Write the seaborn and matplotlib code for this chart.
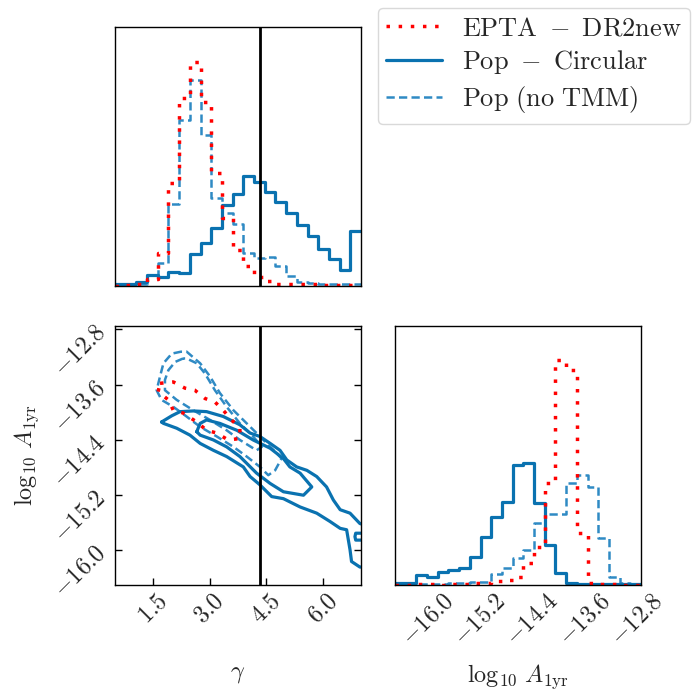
import numpy as np
import pandas as pd
import matplotlib
matplotlib.use("Agg")
import matplotlib.pyplot as plt
import seaborn as sns
from matplotlib.lines import Line2D

sns.set_theme(style="white")
plt.rcParams.update({
    "font.family": "serif",
    "font.serif": ["cmr10", "DejaVu Serif"],
    "mathtext.fontset": "cm",
    "axes.unicode_minus": False,
    "axes.formatter.use_mathtext": True,
})

# ---------------- data ----------------
gamma_range = (0.5, 7.0)
loga_range = (-16.5, -12.75)
n_bins = 23
gamma_ticks = [1.5, 3.0, 4.5, 6.0]
loga_ticks = [-16.0, -15.2, -14.4, -13.6, -12.8]
gamma_truth = 13.0 / 3.0
hist_top = 259

series_labels = [r"$\mathrm{EPTA}\ -\ \mathrm{DR2new}$",
                 r"$\mathrm{Pop}\ -\ \mathrm{Circular}$",
                 r"$\mathrm{Pop\ (no\ TMM)}$"]

gamma_epta = [0, 1, 2, 7, 33, 103, 188, 224, 184, 113, 68, 36, 20, 9, 5, 2, 2, 2, 2, 1.5, 1.5, 1.5, 1.5]
gamma_circ = [1.7, 1.7, 3.7, 11, 9.3, 14.3, 12.7, 32, 43, 58, 81, 92, 110, 104, 94, 84, 73, 61, 50, 37, 27, 16, 55]
gamma_notmm = [1, 1, 2, 11, 23, 82, 166, 206, 151, 88, 73, 62, 33, 28, 29, 20, 10, 4, 3, 2, 2, 2, 2]

loga_epta = [0.5, 0.5, 1, 1, 0.5, 1, 1, 2, 2, 4, 5, 8, 22, 38, 102, 225, 215, 52, 2, 1, 1, 0.5, 0.5]
loga_circ = [1.7, 1.7, 10, 7.7, 13.3, 15, 16.7, 27.7, 48.3, 67.7, 83.3, 120, 121.7, 82.3, 40, 11.7, 1.7, 1, 1, 1, 1, 1, 1]
loga_notmm = [0.5, 0.5, 1, 1.5, 1.5, 2, 2, 3, 3.3, 11, 17, 26.7, 35, 61.7, 71, 71, 101.7, 110, 98.3, 46.7, 8, 1.7, 1]

# 2D credible contours (gamma, log10 A)
epta_c_g = [1.69, 2.04, 2.35, 2.61, 2.88, 3.14, 3.36, 3.58, 3.80, 3.80, 3.49, 3.19, 2.92, 2.66, 2.30, 2.04, 1.91, 1.64, 1.69]
epta_c_a = [-13.58, -13.56, -13.65, -13.68, -13.80, -13.85, -13.97, -14.11, -14.23, -14.38, -14.40, -14.30, -14.26, -14.14, -14.01, -13.97, -13.82, -13.70, -13.58]

notmm_outer_g = [2.26, 2.00, 1.78, 1.69, 1.60, 1.73, 2.04, 2.39, 2.75, 3.19, 3.63, 3.98, 4.33, 4.55, 4.73, 4.90, 4.77, 4.51, 4.24, 3.98, 3.63, 3.27, 3.01, 2.75, 2.39, 2.26]
notmm_outer_a = [-13.12, -13.15, -13.29, -13.48, -13.68, -13.82, -13.92, -14.06, -14.21, -14.35, -14.50, -14.64, -14.79, -14.91, -14.84, -14.67, -14.59, -14.45, -14.30, -14.16, -13.97, -13.72, -13.48, -13.29, -13.12, -13.12]
notmm_inner_g = [2.30, 2.09, 1.91, 1.82, 1.82, 2.13, 2.57, 3.01, 3.45, 3.80, 4.24, 4.38, 4.15, 3.80, 3.45, 3.14, 2.88, 2.66, 2.39, 2.30]
notmm_inner_a = [-13.22, -13.27, -13.39, -13.53, -13.68, -13.82, -13.97, -14.11, -14.26, -14.40, -14.55, -14.50, -14.35, -14.16, -13.92, -13.68, -13.44, -13.29, -13.22, -13.22]

circ_outer_g = [1.73, 2.00, 2.22, 2.57, 2.92, 3.36, 3.80, 4.07, 4.33, 4.60, 4.86, 5.04, 5.30, 5.57, 5.83, 6.09, 6.27, 6.45, 6.71, 6.97, 7.10,
                7.10, 6.97, 6.75, 6.71, 6.62, 6.45, 6.18, 5.83, 5.39, 4.95, 4.64, 4.33, 4.07, 3.89, 3.45, 3.10, 2.75, 2.48, 2.13, 1.78, 1.73]
circ_outer_a = [-14.14, -14.05, -13.99, -13.98, -13.99, -14.06, -14.18, -14.30, -14.35, -14.45, -14.55, -14.69, -14.79, -14.84, -14.93, -15.08, -15.27, -15.41, -15.46, -15.61, -15.63,
                -16.24, -16.24, -16.16, -15.99, -15.70, -15.68, -15.58, -15.46, -15.37, -15.25, -15.22, -15.05, -14.93, -14.79, -14.64, -14.55, -14.45, -14.33, -14.23, -14.16, -14.14]
circ_inner_g = [2.66, 2.75, 2.92, 3.27, 3.72, 4.15, 4.60, 4.95, 5.12, 5.39, 5.70, 5.48, 4.95, 4.60, 4.24, 3.80, 3.45, 3.10, 2.75, 2.66]
circ_inner_a = [-14.28, -14.16, -14.11, -14.16, -14.26, -14.40, -14.52, -14.67, -14.79, -14.88, -15.08, -15.20, -15.15, -15.03, -14.88, -14.64, -14.50, -14.40, -14.33, -14.28]
circ_blob_g = [7.10, 6.86, 6.84, 6.86, 7.10]
circ_blob_a = [-15.75, -15.75, -15.80, -15.85, -15.85]

# ---------------- styles ----------------
c_red = "#ff0000"
c_circ = "#0a72b0"
c_notmm = "#2f8ac4"
st_red = dict(color=c_red, linestyle=(0, (1.0, 2.5)), linewidth=2.5)
st_circ = dict(color=c_circ, linestyle="-", linewidth=2.3)
st_notmm = dict(color=c_notmm, linestyle=(0, (3.3, 1.7)), linewidth=1.8)
FS = 17.5
FS_LEG = 19

W, H = 693, 691
fig = plt.figure(figsize=(W / 100, H / 100), dpi=100)

def frac(x0, y0, x1, y1):
    return [x0 / W, 1 - y1 / H, (x1 - x0) / W, (y1 - y0) / H]

ax_g = fig.add_axes(frac(115, 27, 361, 286))
ax_2d = fig.add_axes(frac(115, 326, 361, 585))
ax_a = fig.add_axes(frac(395, 326, 641, 585))

g_w = (gamma_range[1] - gamma_range[0]) / n_bins
a_w = (loga_range[1] - loga_range[0]) / n_bins
g_cent = gamma_range[0] + g_w * (np.arange(n_bins) + 0.5)
a_cent = loga_range[0] + a_w * (np.arange(n_bins) + 0.5)

for vals, st in [(gamma_notmm, st_notmm), (gamma_circ, st_circ), (gamma_epta, st_red)]:
    df = pd.DataFrame({"x": g_cent, "w": vals})
    sns.histplot(data=df, x="x", weights="w", bins=n_bins, binrange=gamma_range,
                 element="step", fill=False, ax=ax_g, **st)
for vals, st in [(loga_notmm, st_notmm), (loga_circ, st_circ), (loga_epta, st_red)]:
    df = pd.DataFrame({"x": a_cent, "w": vals})
    sns.histplot(data=df, x="x", weights="w", bins=n_bins, binrange=loga_range,
                 element="step", fill=False, ax=ax_a, **st)

for gx, ay, st in [(notmm_outer_g, notmm_outer_a, st_notmm), (notmm_inner_g, notmm_inner_a, st_notmm),
                   (circ_outer_g, circ_outer_a, st_circ), (circ_inner_g, circ_inner_a, st_circ),
                   (circ_blob_g, circ_blob_a, st_circ), (epta_c_g, epta_c_a, st_red)]:
    ax_2d.plot(gx, ay, **st)

for ax in (ax_g, ax_2d):
    ax.axvline(gamma_truth, color="black", linewidth=2.0)

def fmt(v):
    return r"$%.1f$" % v

for ax in (ax_g, ax_2d, ax_a):
    for s in ax.spines.values():
        s.set_color("black")
        s.set_linewidth(1.0)
    ax.set_facecolor("white")
    ax.tick_params(direction="in", length=5, width=1, color="black", labelsize=FS)

ax_g.set_xlim(*gamma_range)
ax_g.set_ylim(0, hist_top)
ax_g.set_xticks(gamma_ticks)
ax_g.set_xticklabels([])
ax_g.set_yticks([])
ax_g.set_xlabel("")
ax_g.set_ylabel("")

ax_2d.set_xlim(*gamma_range)
ax_2d.set_ylim(*loga_range)
ax_2d.set_xticks(gamma_ticks)
ax_2d.set_xticklabels([fmt(v) for v in gamma_ticks], rotation=45)
ax_2d.set_yticks(loga_ticks)
ax_2d.set_yticklabels([fmt(v) for v in loga_ticks], rotation=45)
ax_2d.tick_params(axis="y", left=True, right=True)
ax_2d.tick_params(axis="x", bottom=True)
ax_2d.set_xlabel(r"$\gamma$", fontsize=FS)
ax_2d.set_ylabel(r"$\log_{10}\,A_{\rm 1yr}$", fontsize=FS)
ax_2d.xaxis.set_label_coords(0.5, -0.3)
ax_2d.yaxis.set_label_coords(-0.3, 0.5)

ax_a.set_xlim(*loga_range)
ax_a.set_ylim(0, hist_top)
ax_a.set_xticks(loga_ticks)
ax_a.set_xticklabels([fmt(v) for v in loga_ticks], rotation=45)
ax_a.set_yticks([])
ax_a.set_ylabel("")
ax_a.set_xlabel(r"$\log_{10}\,A_{\rm 1yr}$", fontsize=FS)
ax_a.xaxis.set_label_coords(0.5, -0.3)

handles = [Line2D([], [], **st_red), Line2D([], [], **st_circ), Line2D([], [], **st_notmm)]
leg = fig.legend(handles, series_labels, loc="upper right",
                 bbox_to_anchor=(690 / W, 1 - 8 / H), borderaxespad=0.0,
                 fontsize=FS_LEG, frameon=True, fancybox=True, handlelength=2.1,
                 labelspacing=0.3, handletextpad=0.75, borderpad=0.33)
leg.get_frame().set_edgecolor("#d0d0d0")
leg.get_frame().set_linewidth(1.0)

fig.savefig("out.png", dpi=100, facecolor="white")
